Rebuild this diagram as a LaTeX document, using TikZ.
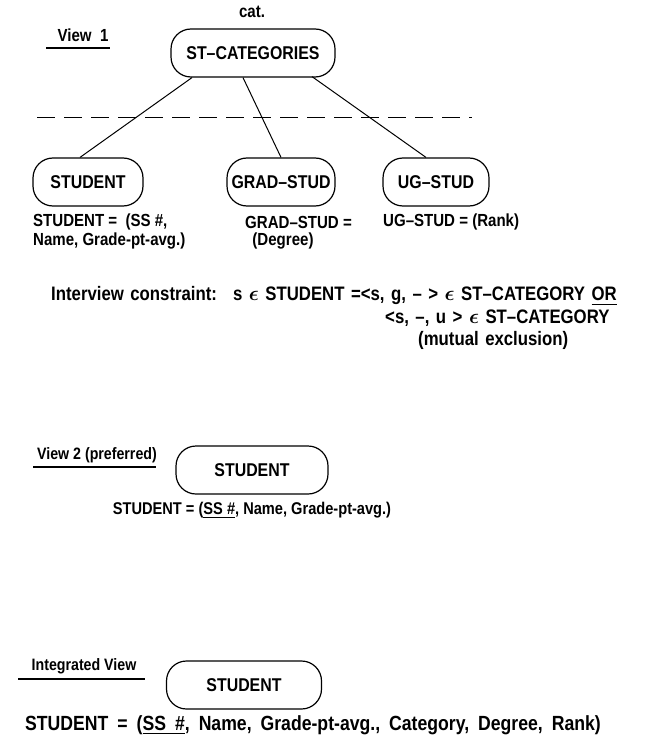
\documentclass[tikz,border=0pt]{standalone}
\usepackage{amsmath}
\usepackage{fontspec}
\setmainfont{Liberation Sans}[FakeStretch=0.86]
\newcommand{\fs}[1]{\fontsize{#1}{#1}\selectfont}
\newcommand{\elem}{$\boldsymbol{\epsilon}$}
\newcommand{\widespace}[1]{\spaceskip=#1\relax}
\begin{document}
\begin{tikzpicture}[x=1pt,y=-1pt,
  every node/.style={font=\bfseries\fs{17.5}, inner sep=0pt},
  entity/.style={draw, line width=1.2pt, rounded corners=20pt, minimum height=48pt, font=\bfseries\fs{18.5}},
  wide/.style={font={\bfseries\fs{19.5}\widespace{6.5pt}}},
  link/.style={line width=1pt},
  rule/.style={line width=1.3pt},
  sep/.style={line width=0.8pt, dash pattern=on 18pt off 9pt}]
\useasboundingbox (0,0) rectangle (653,738);

% ---- View 1: category hierarchy ----
\node (catlbl) at (252,12) {cat.};
\node (v1) at (83,35) {View\ \ 1};
\draw[rule] (46,48) -- (110,48);

\node[entity, minimum width=164pt] (stcat) at (253,53) {ST--CATEGORIES};
\draw[sep] (37,117) -- (472,117);

\node[entity, minimum width=110pt] (stud) at (88,182) {STUDENT};
\node[entity, minimum width=108pt] (grad) at (281,182) {GRAD--STUD};
\node[entity, minimum width=106pt] (ug)   at (436,182) {UG--STUD};

\coordinate (s1) at ([xshift=-61pt]stcat.south);
\coordinate (s2) at ([xshift=-10pt]stcat.south);
\coordinate (s3) at ([xshift=59pt,yshift=1pt]stcat.south);
\draw[link] (s1) -- ([xshift=-8pt]stud.north);
\draw[link] (s2) -- (grad.north);
\draw[link] (s3) -- ([xshift=-10pt]ug.north);

\node[anchor=west] (studattr1) at (33,222) {STUDENT =\ \ (SS \#,};
\node[anchor=west] (studattr2) at (33,241) {Name, Grade-pt-avg.)};
\node[anchor=west] (gradattr1) at (245,222) {GRAD--STUD =};
\node (gradattr2) at (283,241) {(Degree)};
\node[anchor=west] (ugattr) at (383,222) {UG--STUD = (Rank)};

% ---- interview constraint ----
\node[anchor=west, wide] (ic1) at (51,296)
  {Interview constraint:\hspace{16pt}s \elem\ STUDENT =<s, g, -- > \elem\ ST--CATEGORY \underline{OR}};
\node[anchor=west, wide] (ic2) at (385,318) {<s, --, u > \elem\ ST--CATEGORY};
\node[anchor=west, wide] (ic3) at (418,340) {(mutual exclusion)};

% ---- View 2 ----
\node[font=\bfseries\fs{16.5}] (v2) at (97,455) {View 2 (preferred)};
\draw[rule] (33,467) -- (156,467);
\node[entity, minimum width=152pt] (stud2) at (252,470) {STUDENT};
\node[font=\bfseries\fs{17}] (stud2attr) at (252,510) {STUDENT = (\underline{SS \#}, Name, Grade-pt-avg.)};

% ---- Integrated view ----
\node[font=\bfseries\fs{16.5}] (iv) at (84,666) {Integrated View};
\draw[rule] (18,679) -- (145,679);
\node[entity, minimum width=155pt] (stud3) at (244,685) {STUDENT};
\node[font={\bfseries\fs{20.5}\widespace{9pt}}] (stud3attr) at (313,725)
  {STUDENT = (\underline{SS \#}, Name, Grade-pt-avg., Category, Degree, Rank)};
\end{tikzpicture}
\end{document}
